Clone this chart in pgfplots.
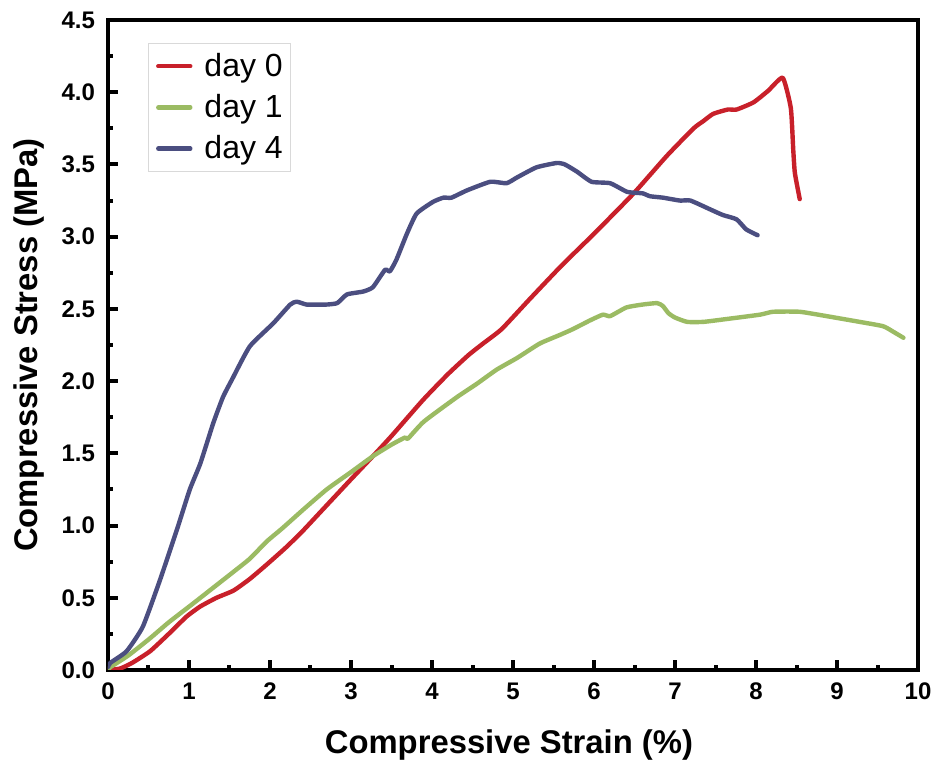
\documentclass[border=0pt]{standalone}
\usepackage{pgfplots}
\pgfplotsset{compat=1.18}
\usepackage{fontspec}
\setmainfont{Liberation Sans}
\usetikzlibrary{calc}
\definecolor{cred}{RGB}{200,32,42}
\definecolor{cgreen}{RGB}{155,187,99}
\definecolor{cblue}{RGB}{75,78,128}
\begin{document}
\begin{tikzpicture}
\begin{axis}[
  scale only axis,
  width=405pt, height=325pt,
  xmin=0, xmax=10, ymin=0, ymax=4.5,
  xtick={0,1,...,10},
  ytick={0,0.5,...,4.5},
  minor tick num=1,
  tick align=inside,
  tick pos=left,
  major tick length=5pt,
  minor tick length=2.5pt,
  every tick/.style={black, line width=2pt},
  axis line style={line width=2pt},
  /pgf/number format/assume math mode=true,
  ticklabel style={font=\fontsize{12}{14}\selectfont\bfseries},
  xticklabel style={yshift=-3pt},
  yticklabel style={xshift=-3pt, /pgf/number format/.cd, fixed, fixed zerofill, precision=1},
  xlabel={Compressive Strain (\%)},
  ylabel={Compressive Stress (MPa)},
  label style={font=\fontsize{16.4}{19}\selectfont\bfseries},
  xlabel style={at={(axis description cs:0.495,-0.115)}, anchor=center},
  ylabel style={at={(axis description cs:-0.098,0.5)}, anchor=center},
  legend style={at={(axis description cs:0.049,0.965)}, anchor=north west,
    draw=black!15, line width=0.4pt, font=\fontsize{16}{19}\selectfont,
    inner xsep=2pt, inner ysep=3pt, row sep=3.5pt},
  legend cell align=left,
  legend image code/.code={\path (-2pt,0pt) (20pt,0pt); \draw[#1, line width=2.2pt, line cap=round] (0pt,0pt) -- (16pt,0pt);},
  every axis plot/.append style={line width=2.2pt, line join=round, line cap=round},
]
\addplot[cred, smooth, tension=0.3] coordinates {
(0,0) (0.15,0.01) (0.3,0.05) (0.52,0.13) (0.75,0.25) (0.97,0.37) (1.14,0.44) (1.34,0.50)
(1.55,0.55) (1.75,0.63) (1.96,0.73) (2.2,0.85) (2.4,0.96) (2.65,1.11) (3.0,1.32) (3.27,1.48)
(3.5,1.62) (3.89,1.87) (4.2,2.05) (4.45,2.18) (4.63,2.26) (4.86,2.36) (5.21,2.57) (5.6,2.80)
(6.0,3.02) (6.49,3.30) (6.9,3.56) (7.23,3.75) (7.35,3.80) (7.47,3.85) (7.65,3.88) (7.76,3.88)
(7.97,3.93) (8.15,4.01) (8.33,4.10) (8.43,3.89) (8.46,3.60) (8.48,3.44) (8.54,3.26)
};
\addlegendentry{day 0}
\addplot[cgreen, smooth, tension=0.3] coordinates {
(0,0) (0.03,0.02) (0.25,0.10) (0.52,0.22) (0.75,0.33) (1.05,0.46) (1.3,0.57) (1.55,0.68)
(1.75,0.77) (1.96,0.89) (2.15,0.98) (2.41,1.11) (2.7,1.25) (3.0,1.37) (3.27,1.48) (3.5,1.56)
(3.67,1.61) (3.70,1.60) (3.9,1.72) (4.31,1.89) (4.55,1.98) (4.80,2.08) (5.05,2.16) (5.33,2.26)
(5.58,2.32) (5.74,2.36) (5.95,2.42) (6.11,2.46) (6.2,2.45) (6.4,2.51) (6.6,2.53) (6.78,2.54)
(6.85,2.52) (6.92,2.47) (7.0,2.44) (7.15,2.41) (7.35,2.41) (7.64,2.43) (8.05,2.46) (8.21,2.48)
(8.54,2.48) (8.87,2.45) (9.28,2.41) (9.57,2.38) (9.70,2.34) (9.82,2.30)
};
\addlegendentry{day 1}
\addplot[cblue, smooth, tension=0.3] coordinates {
(0,0.02) (0.03,0.05) (0.23,0.13) (0.43,0.30) (0.64,0.62) (0.85,0.97) (1.01,1.25) (1.14,1.43)
(1.30,1.71) (1.42,1.89) (1.53,2.01) (1.75,2.24) (2.04,2.40) (2.25,2.53) (2.33,2.55) (2.45,2.53)
(2.60,2.53) (2.70,2.53) (2.83,2.54) (2.95,2.60) (3.15,2.62) (3.27,2.65) (3.42,2.77) (3.48,2.76)
(3.56,2.84) (3.69,3.02) (3.81,3.16) (4.01,3.24) (4.14,3.27) (4.24,3.27) (4.43,3.32) (4.72,3.38)
(4.92,3.37) (5.05,3.41) (5.29,3.48) (5.54,3.51) (5.64,3.50) (5.79,3.45) (5.97,3.38) (6.20,3.37)
(6.41,3.31) (6.60,3.30) (6.69,3.28) (6.85,3.27) (7.06,3.25) (7.19,3.25) (7.43,3.19) (7.59,3.15)
(7.76,3.12) (7.88,3.05) (8.02,3.01)
};
\addlegendentry{day 4}
\coordinate (ll) at (rel axis cs:0,0);
\coordinate (ur) at (rel axis cs:1,1);
\end{axis}
\pgfresetboundingbox
\path[use as bounding box] ($(ll)+(-54pt,-49.5pt)$) rectangle ($(ur)+(12pt,10pt)$);
\end{tikzpicture}
\end{document}
